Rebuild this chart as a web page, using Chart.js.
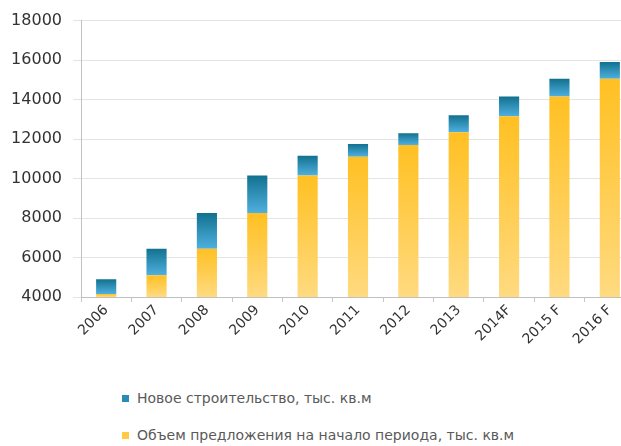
<!DOCTYPE html>
<html>
<head>
<meta charset="utf-8">
<script src="https://cdn.jsdelivr.net/npm/chart.js@4.4.0/dist/chart.umd.min.js"></script>
<style>
  html, body { margin: 0; padding: 0; background: #fff; overflow: hidden; }
  #wrap { position: absolute; left: 0; top: 0; width: 640px; height: 362px; }
  #legend { position: absolute; left: 122px; top: 388px; font-family: "DejaVu Sans", sans-serif; font-size: 14px; color: #5a5a5a; }
  .item { display: flex; align-items: center; height: 20px; margin-bottom: 17px; }
  .box { width: 7px; height: 7px; margin-right: 8px; }
</style>
</head>
<body>
<div id="wrap"><canvas id="chart"></canvas></div>
<div id="legend"></div>
<script>
const years = ["2006", "2007", "2008", "2009", "2010", "2011", "2012", "2013", "2014F", "2015 F", "2016 F"];
const supply = [4150, 5100, 6450, 8250, 10150, 11100, 11700, 12350, 13150, 14150, 15050];
const newBuild = [750, 1350, 1800, 1900, 1000, 650, 600, 850, 1000, 900, 850];
const yTicks = [4000, 6000, 8000, 10000, 12000, 14000, 16000, 18000];

const labelNew = "Новое строительство, тыс. кв.м";
const labelSupply = "Объем предложения на начало периода, тыс. кв.м";

function gradient(context, topVal, botVal, c1, c2) {
  const chart = context.chart;
  const y = chart.scales.y;
  if (!y || y.top === undefined || isNaN(topVal)) return c1;
  const t = y.getPixelForValue(topVal);
  const b = y.getPixelForValue(Math.max(botVal, y.min));
  if (!isFinite(t) || !isFinite(b) || t === b) return c1;
  const g = chart.ctx.createLinearGradient(0, t, 0, b);
  g.addColorStop(0, c1);
  g.addColorStop(1, c2);
  return g;
}

const ctx = document.getElementById("chart").getContext("2d");
const chart = new Chart(ctx, {
  type: "bar",
  data: {
    labels: years,
    datasets: [
      {
        label: labelSupply,
        data: supply,
        backgroundColor: (c) => {
          if (c.type !== "data") return "#FFC12B";
          return gradient(c, supply[c.dataIndex], 0, "#FFC022", "#FFDA80");
        },
        barPercentage: 0.4,
        categoryPercentage: 1.0,
      },
      {
        label: labelNew,
        data: newBuild,
        backgroundColor: (c) => {
          if (c.type !== "data") return "#1F88B5";
          const i = c.dataIndex;
          return gradient(c, supply[i] + newBuild[i], supply[i], "#12718F", "#4FB0E0");
        },
        barPercentage: 0.4,
        categoryPercentage: 1.0,
      },
    ],
  },
  options: {
    responsive: true,
    maintainAspectRatio: false,
    animation: false,
    layout: { padding: { top: 8, right: 5, bottom: 0, left: 0 } },
    plugins: {
      legend: { display: false },
      tooltip: { enabled: false },
    },
    scales: {
      x: {
        stacked: true,
        grid: { display: true, drawOnChartArea: false, offset: true, tickLength: 5, color: "#c8c8c8" },
        border: { color: "#c0c0c0" },
        ticks: {
          maxRotation: 45,
          minRotation: 45,
          padding: 0,
          color: "#333",
          font: { family: "DejaVu Sans", size: 14 },
        },
        afterFit: (scale) => { scale.height = 65; },
      },
      y: {
        stacked: true,
        min: 4000,
        max: 18000,
        afterBuildTicks: (scale) => { scale.ticks = yTicks.map((v) => ({ value: v })); },
        grid: { color: "#e4e4e4", tickLength: 8 },
        border: { color: "#c0c0c0" },
        ticks: {
          padding: 11,
          color: "#333",
          font: { family: "DejaVu Sans", size: 16 },
          callback: (v) => String(v),
        },
        afterFit: (scale) => { scale.width = 81; },
      },
    },
  },
});

const legendItems = [
  { text: labelNew, color: "#2A8BB8" },
  { text: labelSupply, color: "#FFCB45" },
];
document.getElementById("legend").innerHTML = legendItems
  .map((it) => `<div class="item"><span class="box" style="background:${it.color}"></span><span>${it.text}</span></div>`)
  .join("");
</script>
</body>
</html>
